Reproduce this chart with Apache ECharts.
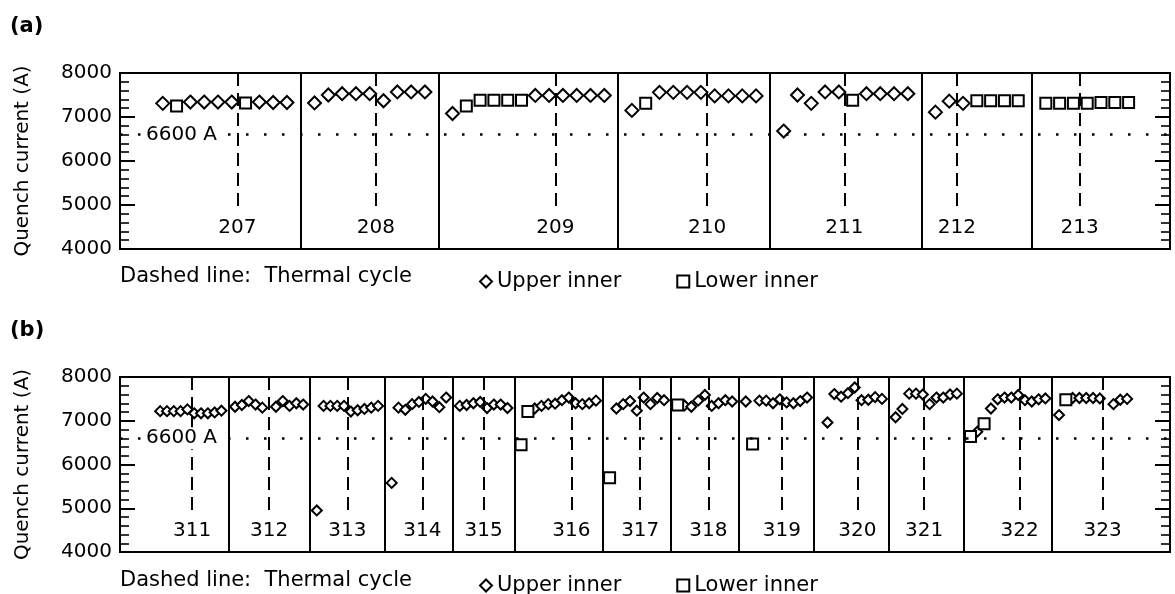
<!DOCTYPE html>
<html><head><meta charset="utf-8">
<script src="https://cdn.jsdelivr.net/npm/echarts/dist/echarts.min.js"></script>
<style>html,body{margin:0;padding:0;background:#fff}#c{width:1175px;height:594px}</style>
</head><body><div id="c"></div>
<script>
// ---------- Panel (a) data ----------
const magnetsA = ['207', '208', '209', '210', '211', '212', '213'];
const quenchA = [
  [7310, 7250, 7340, 7340, 7340, 7340, 7320, 7340, 7330, 7330],
  [7320, 7500, 7530, 7530, 7530, 7370, 7570, 7570, 7570],
  [7080, 7250, 7380, 7380, 7380, 7380, 7490, 7490, 7490, 7490, 7490, 7490],
  [7150, 7310, 7560, 7560, 7560, 7560, 7480, 7480, 7480, 7480],
  [6680, 7500, 7310, 7570, 7570, 7380, 7530, 7530, 7530, 7530],
  [7110, 7360, 7310, 7370, 7370, 7370, 7370],
  [7310, 7310, 7310, 7310, 7330, 7330, 7330]
];
// U = upper inner coil, L = lower inner coil
const coilA = ['ULUUUULUUU', 'UUUUUUUUU', 'ULLLLLUUUUUU', 'ULUUUUUUUU', 'UUUUULUUUU', 'UUULLLL', 'LLLLLLL'];
// thermal cycle position (in quench index within magnet)
const cycleA = [5.4, 4.45, 7.45, 5.45, 4.4, 1.55, 2.45];

// ---------- Panel (b) data ----------
const magnetsB = ['311', '312', '313', '314', '315', '316', '317', '318', '319', '320', '321', '322', '323'];
const quenchB = [
  [7220, 7220, 7220, 7220, 7260, 7170, 7170, 7170, 7190, 7230],
  [7320, 7360, 7450, 7370, 7300, null, 7320, 7450, 7340, 7400, 7370],
  [4950, 7340, 7340, 7340, 7340, 7210, 7240, 7270, 7300, 7340],
  [5580, 7300, 7250, 7380, 7430, 7500, 7440, 7310, 7530],
  [7340, 7360, 7400, 7430, 7290, 7370, 7370, 7290],
  [6450, 7210, 7280, 7340, 7380, 7390, 7470, 7530, 7400, 7380, 7400, 7460],
  [5700, 7280, 7380, 7450, 7230, 7530, 7380, 7520, 7470],
  [7360, 7350, 7320, 7460, 7590, 7340, 7400, 7470, 7440],
  [7440, 6470, 7460, 7460, 7400, 7490, 7420, 7400, 7450, 7530],
  [null, 6960, 7610, 7550, 7630, 7760, 7470, 7480, 7540, 7500],
  [7080, 7270, 7620, 7620, 7600, 7380, 7530, 7530, 7600, 7620],
  [6640, 6750, 6930, 7280, 7490, 7530, 7530, 7590, 7470, 7440, 7490, 7510],
  [7130, 7480, 7520, 7520, 7520, 7520, 7510, null, 7380, 7480, 7500]
];
const coilB = ['UUUUUUUUUU', 'UUUUU-UUUUU', 'UUUUUUUUUU', 'UUUUUUUUU', 'UUUUUUUU', 'LLUUUUUUUUUU',
  'LUUUUUUUU', 'LUUUUUUUU', 'ULUUUUUUUU', '-UUUUUUUUU', 'UUUUUUUUUU', 'LULUUUUUUUUU', 'ULUUUUU-UUU'];
const cycleB = [4.7, 5, 4.5, 4.5, 3.5, 7.4, 4.5, 4.5, 5.3, 5.4, 4.2, 7.2, 6.4];

const yTicks = [4000, 5000, 6000, 7000, 8000];
const limit = 6600;
const limitLabel = '6600 A';

// ---------- build ----------
function build(quench, coil, cycle) {
  let s = 0; const up = [], lo = [], bounds = [], cycles = [];
  quench.forEach((vals, m) => {
    vals.forEach((v, i) => {
      if (v == null) return;
      (coil[m][i] === 'L' ? lo : up).push([s + i, v]);
    });
    cycles.push(s + cycle[m]);
    s += vals.length;
    if (m < quench.length - 1) bounds.push(s);
    s += 1;
  });
  return { up, lo, bounds, cycles, last: s - 2 };
}
const PA = build(quenchA, coilA, cycleA);
const PB = build(quenchB, coilB, cycleB);

const FONT = 'DejaVu Sans';
const black = '#000';
const xRange = [[-3.1, PA.last + 3.0], [-5.9, PB.last + 6.3]];
const yMin = yTicks[0], yMax = yTicks[yTicks.length - 1];

const grids = [
  { left: 120, top: 73, width: 1050, height: 176 },
  { left: 120, top: 377, width: 1050, height: 175 }
].map(g => Object.assign(g, { show: true, borderColor: black, borderWidth: 2, backgroundColor: 'transparent', outerBoundsMode: 'none', containLabel: false }));

const xAxes = xRange.map((r, i) => ({
  type: 'value', gridIndex: i, min: r[0], max: r[1],
  axisLine: { show: false }, axisTick: { show: false }, axisLabel: { show: false }, splitLine: { show: false }
}));

const yAxes = [];
[0, 1].forEach(gi => {
  const common = {
    type: 'value', gridIndex: gi, min: yMin, max: yMax, interval: 1000,
    splitLine: { show: false },
    axisLine: { show: true, onZero: false, lineStyle: { color: black, width: 2 } },
    axisTick: { show: true, inside: true, length: 15, lineStyle: { color: black, width: 2 } },
    minorTick: { show: true, splitNumber: 5, length: 9, lineStyle: { color: black, width: 1.6 } }
  };
  yAxes.push(Object.assign({}, common, {
    position: 'left',
    name: 'Quench current (A)', nameLocation: 'middle', nameGap: 87,
    nameTextStyle: { fontSize: 20, color: black, fontFamily: FONT },
    axisLabel: { show: true, fontSize: 20, color: black, fontFamily: FONT, margin: 8, formatter: v => String(v) }
  }));
  yAxes.push(Object.assign({}, common, { position: 'right', axisLabel: { show: false } }));
});

function panelSeries(P, magnets, gi, dSize, rSize) {
  const xi = gi, yi = gi * 2;
  const lineData = [];
  P.bounds.forEach(b => lineData.push({ xAxis: b, lineStyle: { type: 'solid', width: 2, color: black } }));
  P.cycles.forEach(c => lineData.push([
    { coord: [c, yMax], lineStyle: { type: [13, 7], width: 2, color: black } },
    { coord: [c, 4950] }
  ]));
  lineData.push({ yAxis: limit, lineStyle: { type: [2.5, 15.5], width: 2.5, color: black } });
  const mk = { color: '#fff', borderColor: black, borderWidth: 2, opacity: 1 };
  const hidden = { color: 'transparent', opacity: 1 };
  return [
    {
      type: 'scatter', name: 'guides' + gi, xAxisIndex: xi, yAxisIndex: yi, z: 1, silent: true,
      symbolSize: 0, data: [[0, limit]], itemStyle: hidden,
      markLine: { silent: true, symbol: ['none', 'none'], label: { show: false }, animation: false, data: lineData }
    },
    {
      type: 'scatter', name: 'Upper inner', xAxisIndex: xi, yAxisIndex: yi, z: 3,
      symbol: 'diamond', symbolSize: dSize, itemStyle: mk, data: P.up
    },
    {
      type: 'scatter', name: 'Lower inner', xAxisIndex: xi, yAxisIndex: yi, z: 3,
      symbol: 'rect', symbolSize: rSize, itemStyle: mk, data: P.lo
    },
    {
      type: 'scatter', name: 'names' + gi, xAxisIndex: xi, yAxisIndex: yi, z: 4, silent: true,
      symbolSize: 0, itemStyle: hidden,
      data: magnets.map((m, i) => ({ name: m, value: [P.cycles[i], 4490] })),
      label: { show: true, position: 'inside', formatter: '{b}', fontSize: 20, color: black, opacity: 1, fontFamily: FONT }
    },
    {
      type: 'scatter', name: 'ref' + gi, xAxisIndex: xi, yAxisIndex: yi, z: 5, silent: true,
      symbolSize: 0, itemStyle: hidden,
      data: [[xRange[gi][0], limit]],
      label: { show: true, position: 'right', distance: 25, formatter: limitLabel, backgroundColor: '#fff',
        padding: [1, 1], fontSize: 20, color: black, opacity: 1, fontFamily: FONT }
    }
  ];
}

const legendCommon = {
  data: ['Upper inner', 'Lower inner'], left: 474, itemWidth: 12, itemHeight: 12, itemGap: 55,
  selectedMode: false, textStyle: { fontSize: 21, color: black, fontFamily: FONT }
};

const option = {
  animation: false,
  backgroundColor: '#fff',
  textStyle: { fontFamily: FONT },
  grid: grids,
  xAxis: xAxes,
  yAxis: yAxes,
  legend: [Object.assign({}, legendCommon, { top: 266 }), Object.assign({}, legendCommon, { top: 570 })],
  series: [...panelSeries(PA, magnetsA, 0, 13, 11), ...panelSeries(PB, magnetsB, 1, 10, 11)],
  graphic: [
    { type: 'text', left: 10, top: 16, style: { text: '(a)', font: 'bold 21px "DejaVu Sans"', fill: black } },
    { type: 'text', left: 10, top: 320, style: { text: '(b)', font: 'bold 21px "DejaVu Sans"', fill: black } },
    { type: 'text', left: 120, top: 266, style: { text: 'Dashed line:  Thermal cycle', font: '21px "DejaVu Sans"', fill: black } },
    { type: 'text', left: 120, top: 570, style: { text: 'Dashed line:  Thermal cycle', font: '21px "DejaVu Sans"', fill: black } }
  ]
};
const chart = echarts.init(document.getElementById('c'), null, { renderer: 'canvas' });
chart.setOption(option);
</script></body></html>
